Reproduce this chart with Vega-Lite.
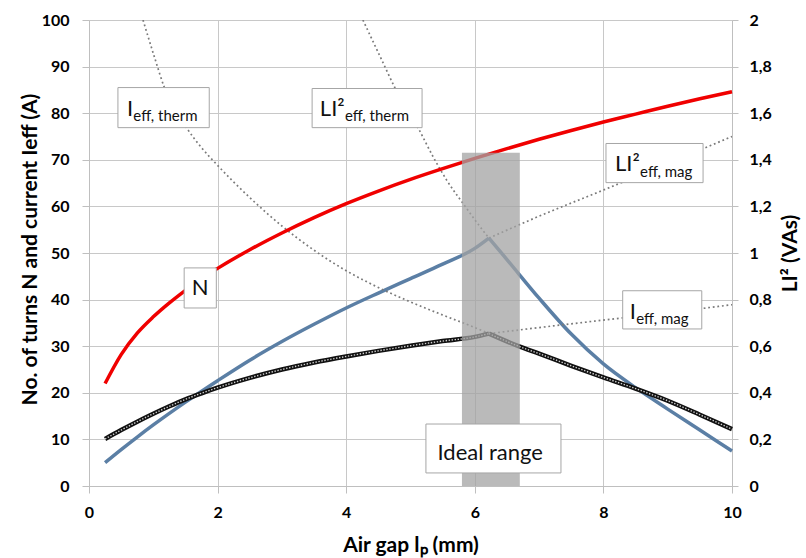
{
  "$schema": "https://vega.github.io/schema/vega-lite/v6.json",
  "width": 643,
  "height": 466,
  "autosize": "none",
  "padding": {"left": 89, "top": 20, "right": 74, "bottom": 72},
  "background": "white",
  "config": {
    "view": {"stroke": null},
    "font": "Lato",
    "axis": {"labelFont": "Lato", "titleFont": "Lato", "labelColor": "#000000", "titleColor": "#000000"}
  },
  "datasets": {
    "curves": [
      {"series": "N", "x": 0.25, "y": 22},
      {"series": "N", "x": 0.5, "y": 28.2},
      {"series": "N", "x": 0.75, "y": 32.8},
      {"series": "N", "x": 1, "y": 36.3},
      {"series": "N", "x": 1.25, "y": 39.3},
      {"series": "N", "x": 1.5, "y": 42},
      {"series": "N", "x": 1.75, "y": 44.5},
      {"series": "N", "x": 2, "y": 46.7},
      {"series": "N", "x": 2.5, "y": 50.7},
      {"series": "N", "x": 3, "y": 54.3},
      {"series": "N", "x": 3.5, "y": 57.6},
      {"series": "N", "x": 4, "y": 60.6},
      {"series": "N", "x": 4.5, "y": 63.3},
      {"series": "N", "x": 5, "y": 65.8},
      {"series": "N", "x": 5.5, "y": 68.1},
      {"series": "N", "x": 6, "y": 70.3},
      {"series": "N", "x": 6.5, "y": 72.4},
      {"series": "N", "x": 7, "y": 74.4},
      {"series": "N", "x": 7.5, "y": 76.3},
      {"series": "N", "x": 8, "y": 78.1},
      {"series": "N", "x": 8.5, "y": 79.8},
      {"series": "N", "x": 9, "y": 81.5},
      {"series": "N", "x": 9.5, "y": 83.1},
      {"series": "N", "x": 10, "y": 84.6},

      {"series": "Ieff", "part": "rise", "x": 0.25, "y": 10.1},
      {"series": "Ieff", "part": "rise", "x": 0.5, "y": 12},
      {"series": "Ieff", "part": "rise", "x": 0.75, "y": 13.8},
      {"series": "Ieff", "part": "rise", "x": 1, "y": 15.5},
      {"series": "Ieff", "part": "rise", "x": 1.25, "y": 17.1},
      {"series": "Ieff", "part": "rise", "x": 1.5, "y": 18.6},
      {"series": "Ieff", "part": "rise", "x": 1.75, "y": 19.9},
      {"series": "Ieff", "part": "rise", "x": 2, "y": 21.1},
      {"series": "Ieff", "part": "rise", "x": 2.5, "y": 23.2},
      {"series": "Ieff", "part": "rise", "x": 3, "y": 25},
      {"series": "Ieff", "part": "rise", "x": 3.5, "y": 26.5},
      {"series": "Ieff", "part": "rise", "x": 4, "y": 27.8},
      {"series": "Ieff", "part": "rise", "x": 4.5, "y": 29},
      {"series": "Ieff", "part": "rise", "x": 5, "y": 30.1},
      {"series": "Ieff", "part": "rise", "x": 5.5, "y": 31.1},
      {"series": "Ieff", "part": "rise", "x": 6, "y": 32},
      {"series": "Ieff", "part": "rise", "x": 6.22, "y": 32.7},
      {"series": "Ieff", "part": "fall", "x": 6.22, "y": 32.7},
      {"series": "Ieff", "part": "fall", "x": 6.7, "y": 29.9},
      {"series": "Ieff", "part": "fall", "x": 7, "y": 28.4},
      {"series": "Ieff", "part": "fall", "x": 7.5, "y": 25.8},
      {"series": "Ieff", "part": "fall", "x": 8, "y": 23.3},
      {"series": "Ieff", "part": "fall", "x": 8.5, "y": 20.9},
      {"series": "Ieff", "part": "fall", "x": 9, "y": 18.3},
      {"series": "Ieff", "part": "fall", "x": 9.5, "y": 15.3},
      {"series": "Ieff", "part": "fall", "x": 10, "y": 12.2},

      {"series": "Ieff_therm", "x": 0.84, "y": 100},
      {"series": "Ieff_therm", "x": 1.03, "y": 91.5},
      {"series": "Ieff_therm", "x": 1.17, "y": 85.6},
      {"series": "Ieff_therm", "x": 1.35, "y": 80.6},
      {"series": "Ieff_therm", "x": 1.53, "y": 76.6},
      {"series": "Ieff_therm", "x": 1.75, "y": 72.6},
      {"series": "Ieff_therm", "x": 2, "y": 68.8},
      {"series": "Ieff_therm", "x": 2.5, "y": 61.9},
      {"series": "Ieff_therm", "x": 3, "y": 55.8},
      {"series": "Ieff_therm", "x": 3.5, "y": 50.6},
      {"series": "Ieff_therm", "x": 4, "y": 46.2},
      {"series": "Ieff_therm", "x": 4.5, "y": 42.6},
      {"series": "Ieff_therm", "x": 5, "y": 39.5},
      {"series": "Ieff_therm", "x": 5.5, "y": 36.7},
      {"series": "Ieff_therm", "x": 6, "y": 34},
      {"series": "Ieff_therm", "x": 6.22, "y": 32.7},

      {"series": "Ieff_mag", "x": 6.22, "y": 32.7},
      {"series": "Ieff_mag", "x": 7, "y": 34},
      {"series": "Ieff_mag", "x": 8, "y": 35.6},
      {"series": "Ieff_mag", "x": 9, "y": 37.2},
      {"series": "Ieff_mag", "x": 10, "y": 38.9},

      {"series": "LI2eff", "part": "rise", "x": 0.25, "y": 0.1},
      {"series": "LI2eff", "part": "rise", "x": 0.5, "y": 0.156},
      {"series": "LI2eff", "part": "rise", "x": 0.75, "y": 0.21},
      {"series": "LI2eff", "part": "rise", "x": 1, "y": 0.262},
      {"series": "LI2eff", "part": "rise", "x": 1.5, "y": 0.36},
      {"series": "LI2eff", "part": "rise", "x": 2, "y": 0.452},
      {"series": "LI2eff", "part": "rise", "x": 2.5, "y": 0.54},
      {"series": "LI2eff", "part": "rise", "x": 3, "y": 0.62},
      {"series": "LI2eff", "part": "rise", "x": 3.5, "y": 0.694},
      {"series": "LI2eff", "part": "rise", "x": 4, "y": 0.764},
      {"series": "LI2eff", "part": "rise", "x": 4.5, "y": 0.828},
      {"series": "LI2eff", "part": "rise", "x": 5, "y": 0.89},
      {"series": "LI2eff", "part": "rise", "x": 5.5, "y": 0.952},
      {"series": "LI2eff", "part": "rise", "x": 6, "y": 1.02},
      {"series": "LI2eff", "part": "rise", "x": 6.22, "y": 1.064},
      {"series": "LI2eff", "part": "fall", "x": 6.22, "y": 1.064},
      {"series": "LI2eff", "part": "fall", "x": 6.5, "y": 0.972},
      {"series": "LI2eff", "part": "fall", "x": 7, "y": 0.806},
      {"series": "LI2eff", "part": "fall", "x": 7.5, "y": 0.652},
      {"series": "LI2eff", "part": "fall", "x": 8, "y": 0.524},
      {"series": "LI2eff", "part": "fall", "x": 8.5, "y": 0.422},
      {"series": "LI2eff", "part": "fall", "x": 9, "y": 0.33},
      {"series": "LI2eff", "part": "fall", "x": 9.5, "y": 0.24},
      {"series": "LI2eff", "part": "fall", "x": 10, "y": 0.15},

      {"series": "LI2_therm", "x": 4.26, "y": 2},
      {"series": "LI2_therm", "x": 4.55, "y": 1.83},
      {"series": "LI2_therm", "x": 4.76, "y": 1.708},
      {"series": "LI2_therm", "x": 5.12, "y": 1.536},
      {"series": "LI2_therm", "x": 5.35, "y": 1.414},
      {"series": "LI2_therm", "x": 5.56, "y": 1.314},
      {"series": "LI2_therm", "x": 5.85, "y": 1.2},
      {"series": "LI2_therm", "x": 6.05, "y": 1.124},
      {"series": "LI2_therm", "x": 6.22, "y": 1.064},

      {"series": "LI2_mag", "x": 6.22, "y": 1.064},
      {"series": "LI2_mag", "x": 7, "y": 1.158},
      {"series": "LI2_mag", "x": 8, "y": 1.27},
      {"series": "LI2_mag", "x": 9, "y": 1.384},
      {"series": "LI2_mag", "x": 10, "y": 1.5}
    ],
    "range": [{"x": 5.8, "x2": 6.7, "y": 0, "y2": 71.5}],
    "boxes": [
      {"x": 0.45, "x2": 1.87, "y": 85.5, "y2": 76.9},
      {"x": 3.47, "x2": 5.18, "y": 85.3, "y2": 76.9},
      {"x": 8.04, "x2": 9.55, "y": 73.5, "y2": 65.1},
      {"x": 8.3, "x2": 9.53, "y": 41.9, "y2": 33.7},
      {"x": 1.48, "x2": 1.98, "y": 46.8, "y2": 38.2},
      {"x": 5.24, "x2": 7.34, "y": 13.3, "y2": 2.8}
    ],
    "texts": [
      {"role": "main", "x": 0.59, "y": 79.4, "text": "I"},
      {"role": "main", "x": 3.59, "y": 79.4, "text": "LI²"},
      {"role": "main", "x": 8.18, "y": 67.5, "text": "LI²"},
      {"role": "main", "x": 8.41, "y": 35.9, "text": "I"},
      {"role": "sub", "x": 0.69, "y": 78.3, "text": "eff, therm"},
      {"role": "sub", "x": 3.98, "y": 78.3, "text": "eff, therm"},
      {"role": "sub", "x": 8.57, "y": 66.4, "text": "eff, mag"},
      {"role": "sub", "x": 8.51, "y": 34.8, "text": "eff, mag"},
      {"role": "center", "x": 1.73, "y": 40.9, "text": "N"},
      {"role": "center", "x": 6.24, "y": 5.6, "text": "Ideal range"}
    ]
  },
  "encoding": {
    "x": {
      "field": "x", "type": "quantitative",
      "scale": {"domain": [0, 10], "nice": false},
      "axis": {
        "values": [0, 2, 4, 6, 8, 10], "grid": true, "gridColor": "#c8c8c8",
        "domainColor": "#bfbfbf", "tickColor": "#bfbfbf", "tickSize": 7,
        "labelPadding": 11, "labelFontSize": 16, "labelFontWeight": "bold", "labelFlush": false,
        "title": "Air gap lₚ (mm)", "titleFontSize": 21, "titleFontWeight": "bold",
        "titleY": 65, "titleBaseline": "alphabetic"
      }
    }
  },
  "layer": [
    {
      "encoding": {
        "y": {
          "field": "y", "type": "quantitative",
          "scale": {"domain": [0, 2], "nice": false},
          "axis": {
            "orient": "right", "values": [0, 0.2, 0.4, 0.6, 0.8, 1, 1.2, 1.4, 1.6, 1.8, 2],
            "labelExpr": "replace(format(datum.value, '~g'), '.', ',')",
            "grid": false, "domainColor": "#bfbfbf", "tickColor": "#bfbfbf", "tickSize": 6,
            "labelPadding": 11, "labelFontSize": 16, "labelFontWeight": "bold",
            "title": "LI² (VAs)", "titleFontSize": 21, "titleFontWeight": "bold",
            "titleAngle": 270, "titleX": 58, "titleY": 233, "titleBaseline": "middle"
          }
        }
      },
      "layer": [
        {
          "data": {"name": "curves"},
          "transform": [{"filter": {"field": "series", "oneOf": ["LI2_therm", "LI2_mag"]}}],
          "mark": {"type": "line", "color": "#7a7a7a", "strokeWidth": 1.7, "strokeDash": [1.8, 2.8], "interpolate": "monotone", "clip": true},
          "encoding": {"detail": {"field": "series"}}
        },
        {
          "data": {"name": "curves"},
          "transform": [{"filter": {"field": "series", "equal": "LI2eff"}}],
          "mark": {"type": "line", "color": "#5b7fa5", "strokeWidth": 3.5, "interpolate": "monotone"},
          "encoding": {"detail": {"field": "part"}}
        }
      ]
    },
    {
      "encoding": {
        "y": {
          "field": "y", "type": "quantitative",
          "scale": {"domain": [0, 100], "nice": false},
          "axis": {
            "orient": "left", "values": [0, 10, 20, 30, 40, 50, 60, 70, 80, 90, 100],
            "grid": true, "gridColor": "#c8c8c8", "domainColor": "#bfbfbf", "tickColor": "#bfbfbf",
            "tickSize": 7, "labelPadding": 13, "labelFontSize": 16, "labelFontWeight": "bold",
            "title": "No. of turns N and current Ieff (A)", "titleFontSize": 21, "titleFontWeight": "bold",
            "titleAngle": 270, "titleX": -59, "titleY": 229, "titleBaseline": "middle"
          }
        }
      },
      "layer": [
        {
          "data": {"name": "curves"},
          "transform": [{"filter": {"field": "series", "oneOf": ["Ieff_therm", "Ieff_mag"]}}],
          "mark": {"type": "line", "color": "#7a7a7a", "strokeWidth": 1.7, "strokeDash": [1.8, 2.8], "interpolate": "monotone", "clip": true},
          "encoding": {"detail": {"field": "series"}}
        },
        {
          "data": {"name": "curves"},
          "transform": [{"filter": {"field": "series", "equal": "N"}}],
          "mark": {"type": "line", "color": "#f00000", "strokeWidth": 3.5, "interpolate": "monotone"},
          "encoding": {}
        },
        {
          "data": {"name": "curves"},
          "transform": [{"filter": {"field": "series", "equal": "Ieff"}}],
          "mark": {"type": "line", "color": "#111111", "strokeWidth": 4.5, "interpolate": "monotone"},
          "encoding": {"detail": {"field": "part"}}
        },
        {
          "data": {"name": "curves"},
          "transform": [{"filter": {"field": "series", "equal": "Ieff"}}],
          "mark": {"type": "line", "color": "#d0d0d0", "strokeWidth": 1.4, "strokeDash": [1.4, 1.6], "interpolate": "monotone"},
          "encoding": {"detail": {"field": "part"}}
        },
        {
          "data": {"name": "range"},
          "mark": {"type": "rect", "color": "#a3a3a3", "opacity": 0.75},
          "encoding": {"x2": {"field": "x2"}, "y2": {"field": "y2"}}
        },
        {
          "data": {"name": "boxes"},
          "mark": {"type": "rect", "fill": "#ffffff", "stroke": "#a6a6a6", "strokeWidth": 1},
          "encoding": {"x2": {"field": "x2"}, "y2": {"field": "y2"}}
        },
        {
          "data": {"name": "texts"},
          "transform": [{"filter": {"field": "role", "equal": "main"}}],
          "mark": {"type": "text", "fontSize": 22, "align": "left", "baseline": "alphabetic", "color": "#111111", "font": "Lato"},
          "encoding": {"text": {"field": "text"}}
        },
        {
          "data": {"name": "texts"},
          "transform": [{"filter": {"field": "role", "equal": "sub"}}],
          "mark": {"type": "text", "fontSize": 15, "align": "left", "baseline": "alphabetic", "color": "#111111", "font": "Lato"},
          "encoding": {"text": {"field": "text"}}
        },
        {
          "data": {"name": "texts"},
          "transform": [{"filter": {"field": "role", "equal": "center"}}],
          "mark": {"type": "text", "fontSize": 22, "align": "center", "baseline": "alphabetic", "color": "#111111", "font": "Lato"},
          "encoding": {"text": {"field": "text"}}
        }
      ]
    }
  ],
  "resolve": {"scale": {"y": "independent"}}
}
